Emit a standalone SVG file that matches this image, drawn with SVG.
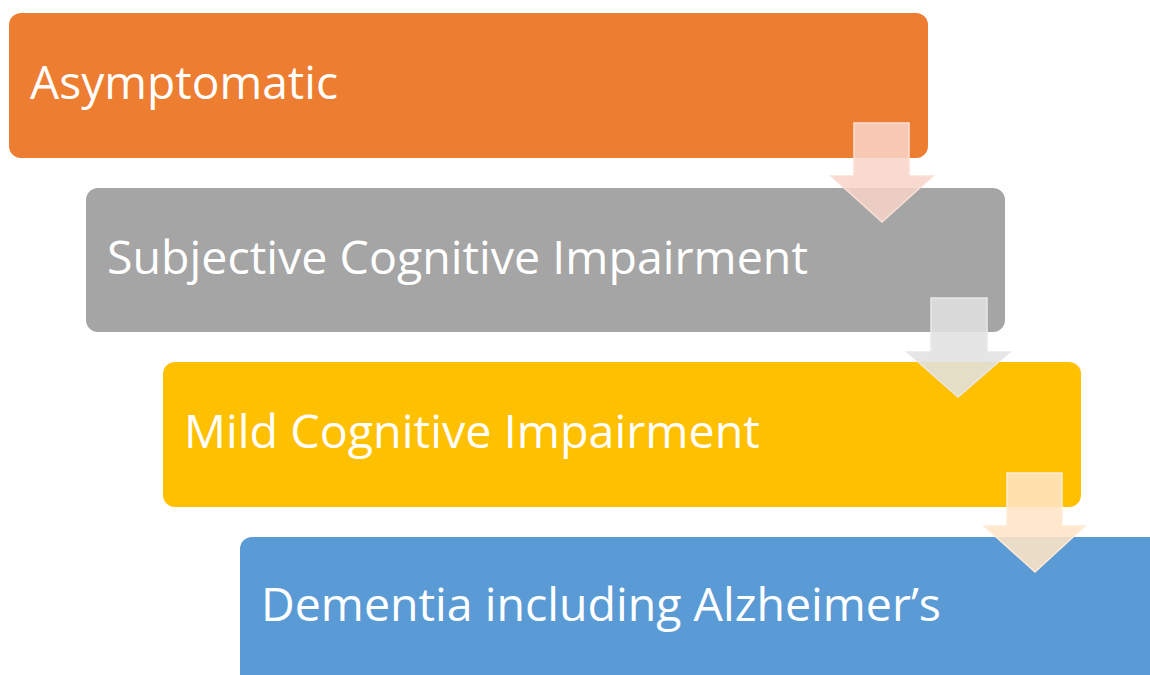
<svg xmlns="http://www.w3.org/2000/svg" width="1150" height="675" viewBox="0 0 1150 675">
<style>
.lbl{font-family:"Open Sans","Liberation Sans",sans-serif;font-size:45px;fill:#ffffff}
.arr{stroke-width:1.5}
</style>
<rect width="1150" height="675" fill="#ffffff"/>
<g id="node-asymptomatic">
<rect x="9" y="13" width="919" height="145" rx="12" fill="#ED7D31"/>
<text class="lbl" x="30" y="99" textLength="308" lengthAdjust="spacingAndGlyphs">Asymptomatic</text>
</g>
<g id="node-sci">
<rect x="86" y="188" width="919" height="144" rx="12" fill="#A5A5A5"/>
<text class="lbl" x="107" y="274" textLength="701" lengthAdjust="spacingAndGlyphs">Subjective Cognitive Impairment</text>
</g>
<g id="node-mci">
<rect x="163" y="362" width="918" height="145" rx="12" fill="#FFC000"/>
<text class="lbl" x="184" y="448" textLength="576" lengthAdjust="spacingAndGlyphs">Mild Cognitive Impairment</text>
</g>
<g id="node-dementia">
<rect x="240" y="537" width="930" height="160" rx="12" fill="#5B9BD5"/>
<text class="lbl" x="261" y="621" textLength="680" lengthAdjust="spacingAndGlyphs">Dementia including Alzheimer’s</text>
</g>
<g id="connectors">
<polygon class="arr" points="854,123 909,123 909,176 933,176 882,222 831,176 854,176" fill="#F8D4C8" fill-opacity="0.86" stroke="#FAE0D6"/>
<polygon class="arr" points="931,298 987,298 987,352 1010,352 958,397 907,352 931,352" fill="#E1E1E1" fill-opacity="0.88" stroke="#E8E8E8"/>
<polygon class="arr" points="1007,473 1062,473 1062,526 1085,526 1035,572 984,526 1007,526" fill="#FFE5C6" fill-opacity="0.88" stroke="#FFEBD6"/>
</g>
</svg>
